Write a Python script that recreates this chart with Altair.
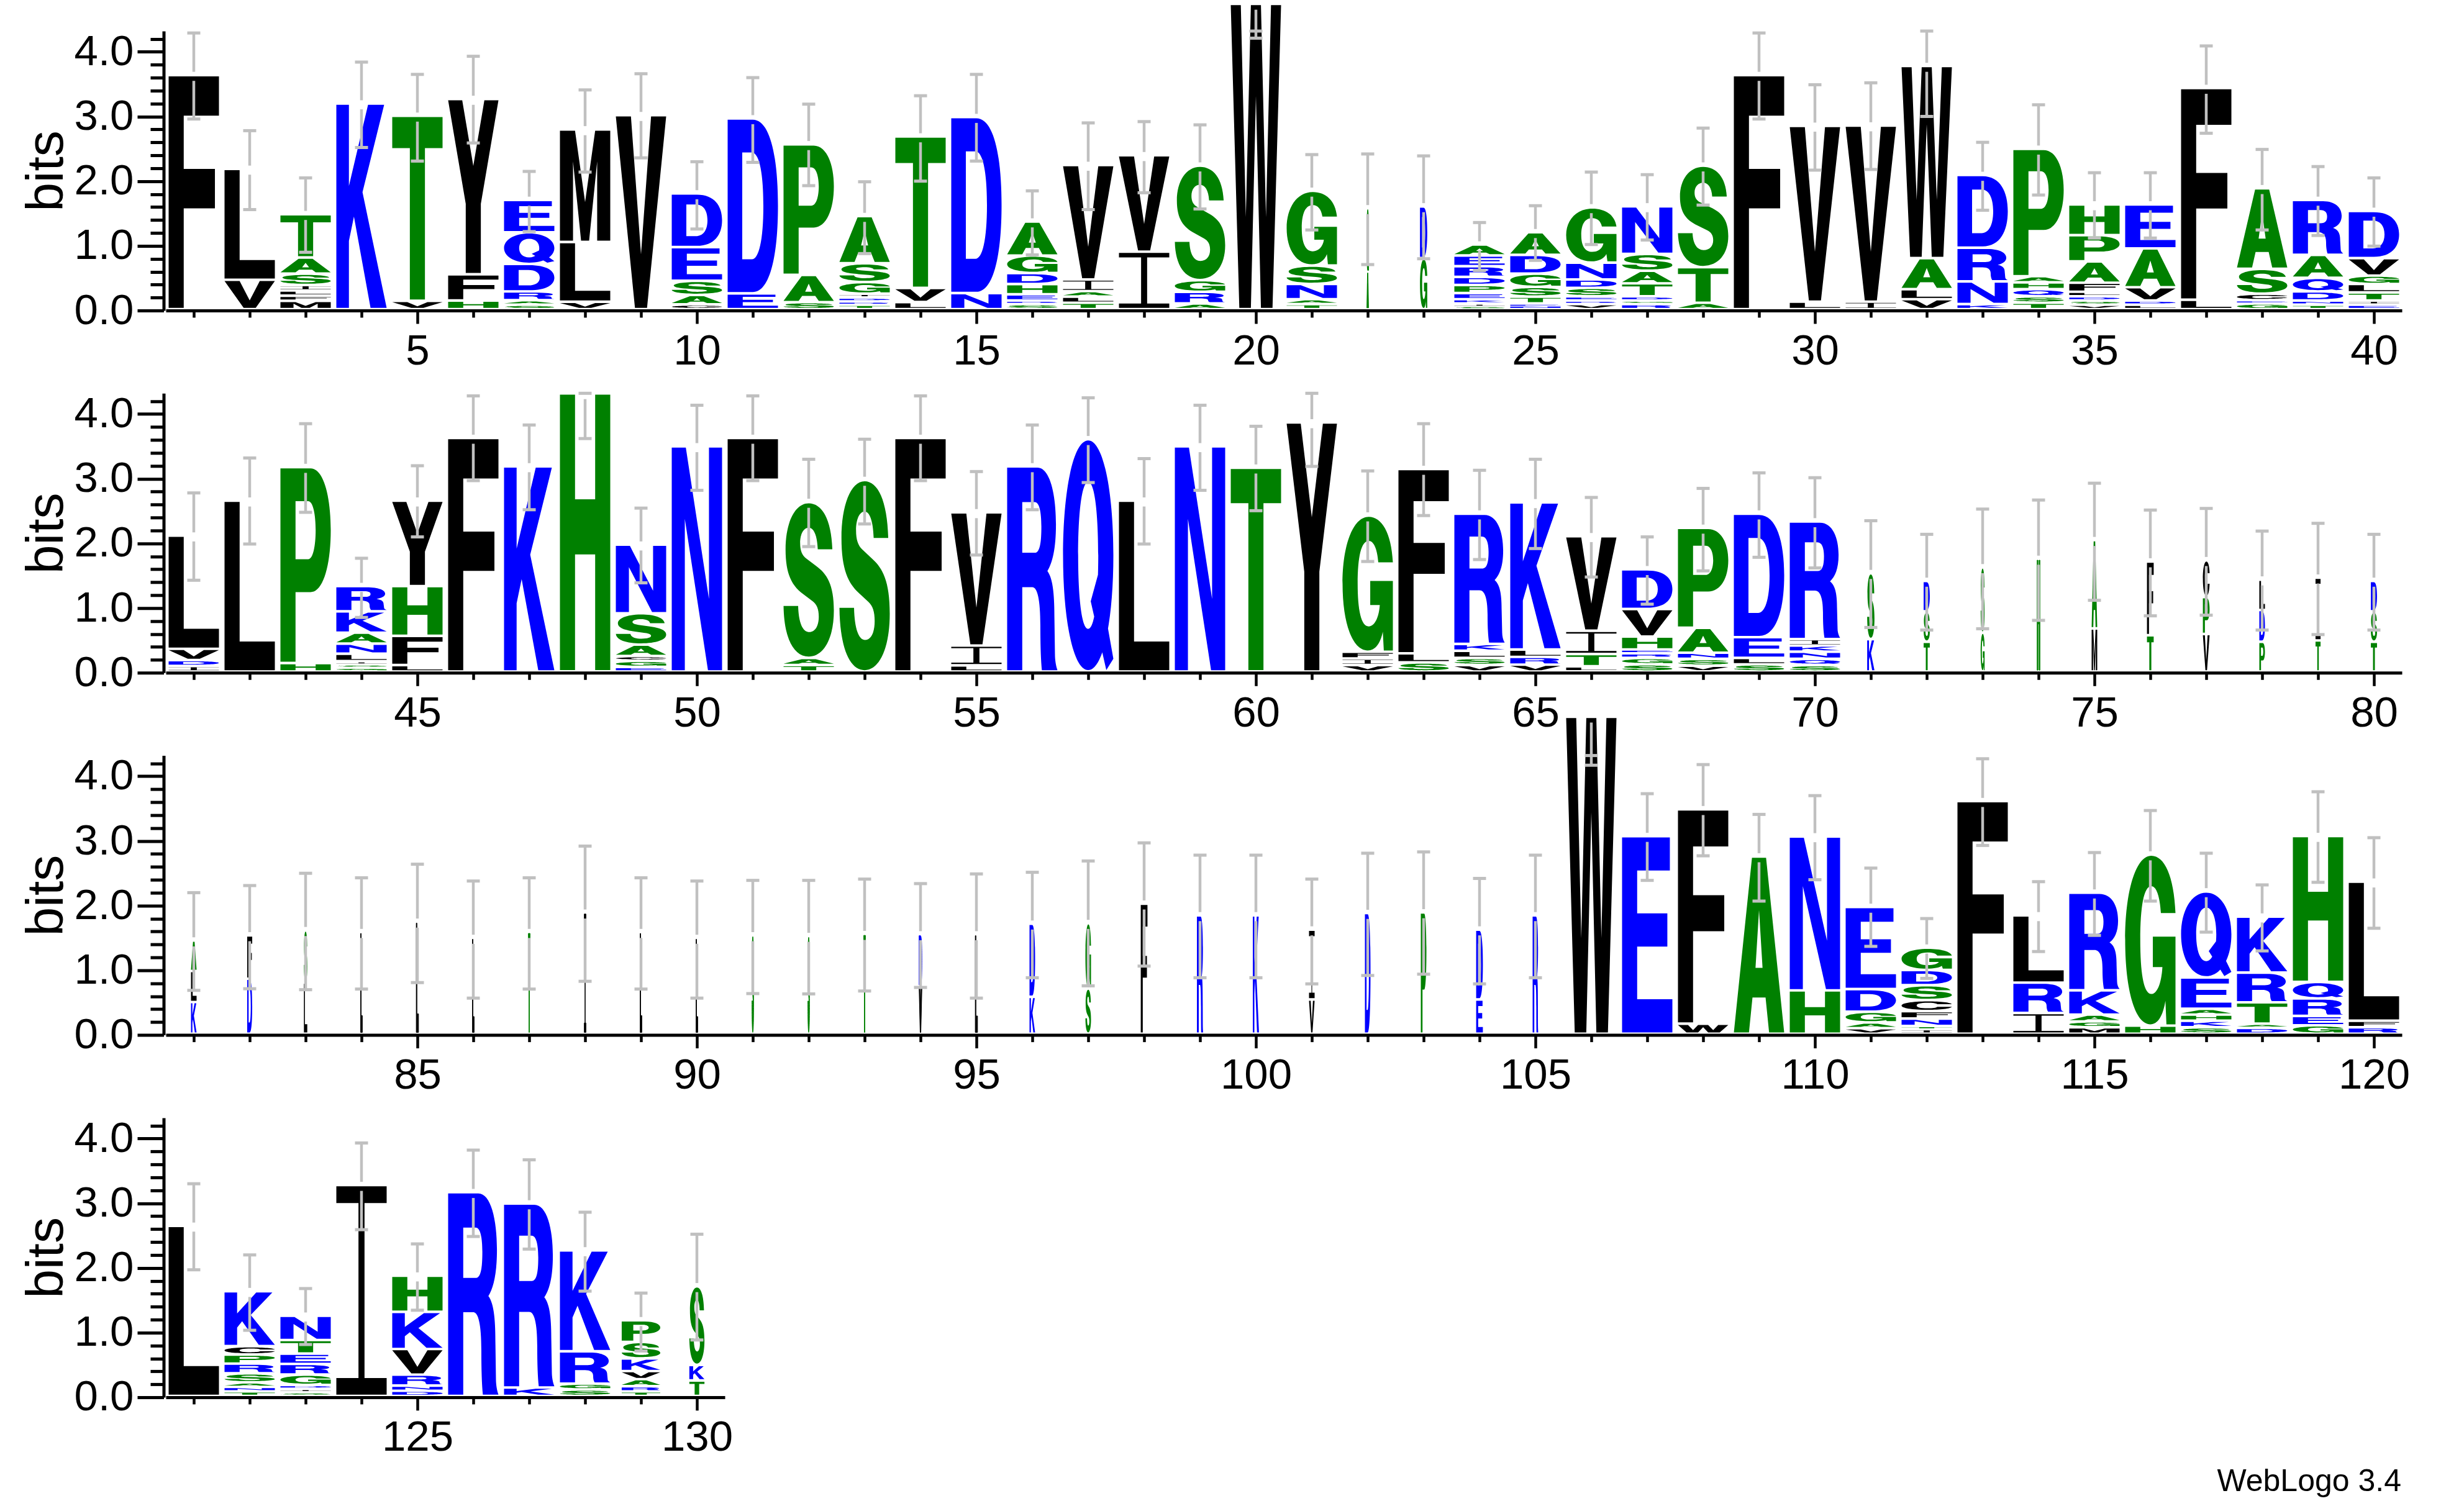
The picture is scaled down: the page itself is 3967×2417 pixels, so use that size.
import re

import altair as alt
import pandas as pd

# sequence logo, 130 positions in 4 rows. Vega text cannot be stretched on one axis only,
# so the logo letters are outlines in the point mark's shape channel; tick labels etc are text.

# letters of each stack, top to bottom
stack_letters = [
    "F", "LV", "TASILFM", "K", "TV", "YFH", "EQDRAS", "MLV", "V", "DESAC",
    "DE", "PAS", "ASGIDRT", "TVL", "DN", "AGDHERS", "VIALT", "VI", "SGRA", "W",
    "GSNAT", "GA", "DG", "AERDPEKIS", "ADGSTEN", "GNDSERV", "NSATDGR", "STA", "F", "VL",
    "VI", "WALV", "DRNK", "PAHQST", "HPAFLDSV", "EAVDL", "FL", "ASCEG", "RAQDNT", "DVGLTIE",
    "LVDI", "L", "PH", "RKANLISG", "YHFL", "F", "K", "H", "NSACGE", "N",
    "F", "SAT", "S", "F", "VIL", "R", "Q", "L", "N", "T",
    "Y", "GFIV", "FLS", "RKLSV", "KLRV", "VITL", "DVHERGS", "PANSV", "DELS", "RIKNQS",
    "SK", "DST", "SG", "H", "AM", "FT", "CPV", "LDP", "IT", "DST",
    "ALK", "FD", "SL", "L", "L", "L", "T", "I", "L", "L",
    "S", "S", "T", "DV", "L", "DK", "GS", "F", "R", "K",
    "IV", "D", "P", "DE", "R", "W", "E", "FW", "A", "NH",
    "EDGAV", "GDSCFNTI", "F", "LRI", "RKAGM", "GH", "QEAHKS", "KRTAD", "HQREG", "LFR",
    "L", "KCPRSANT", "NTERGDIS", "I", "HKVRND", "R", "RK", "KRGS", "PSKVART", "SKT",
]

# top edge of every letter in a stack, in bits (W at 20 is cut by the picture's edge)
stack_tops = [
    [3.62], [2.17, .455], [1.47, .80, .55, .375, .29, .21, .13], [3.18], [2.99, .13],
    [3.25, .54, .135], [1.69, 1.19, .70, .275, .14, .07], [2.78, 1.04, .115], [3.0], [1.79, .96, .44, .22, .075],
    [2.95, .245], [2.55, .53, .11], [1.44, .71, .42, .24, .18, .12, .07], [2.67, .33, .11], [2.97, .25],
    [1.355, .83, .56, .39, .23, .135, .08], [2.23, .46, .28, .195, .10], [2.38, .89], [2.22, .45, .27, .09], [4.72],
    [1.83, .675, .39, .155, .08], [1.56, .58], [1.59, .79], [1.0, .83, .665, .50, .375, .25, .155, .09, .05],
    [1.19, .84, .55, .345, .195, .09, .06], [1.575, .72, .46, .33, .20, .135, .08],
    [1.59, .855, .595, .40, .20, .135, .08], [2.22, .65, .10], [3.62], [2.835, .117],
    [2.84, .117], [3.76, .79, .31, .155], [2.075, .95, .43, .08], [2.48, .51, .415, .31, .20, .10],
    [1.62, 1.145, .74, .41, .27, .20, .135, .07], [1.62, .94, .34, .135, .07], [3.42, .147],
    [1.87, .625, .24, .14, .09], [1.69, .84, .485, .275, .135, .07], [1.52, .79, .52, .39, .26, .135, .07],
    [2.10, .35, .176, .085], [2.64], [3.16, .13], [1.32, .93, .60, .43, .275, .16, .11, .06], [2.64, 1.32, .55, .10],
    [3.61], [3.17], [4.30], [1.96, .90, .415, .24, .165, .07], [3.48],
    [3.61], [2.62, .21, .10], [2.96], [3.61], [2.46, .40, .095],
    [3.17], [3.59], [2.64], [3.48], [3.15],
    [3.85], [2.41, .305, .2, .10], [3.13, .28, .14], [2.44, .425, .32, .21, .10], [2.615, .34, .225, .105],
    [2.09, .63, .27, .08], [1.58, .965, .54, .34, .28, .21, .11], [2.22, .675, .29, .195, .09],
    [2.44, .53, .21, .11], [2.32, .50, .40, .305, .195, .10],
    [1.52, .50], [1.40, .93, .46], [1.61, .60], [1.74], [2.03, .665],
    [1.70, .56], [1.72, 1.15, .58], [1.42, .95, .46], [1.45, .48], [1.40, .93, .46],
    [1.44, .97, .49], [1.52, .85], [1.6, .79], [1.57], [1.73], [1.48], [1.57], [1.87], [1.57], [1.48],
    [1.52], [1.51], [1.54], [1.535, .735], [1.535], [1.70, .57], [1.71, .70], [2.01], [1.83], [1.83],
    [1.61, .53], [1.865], [1.875], [1.61, .53], [1.83], [4.9], [3.055], [3.47, .155], [2.74], [3.05, .67],
    [1.96, .69, .34, .175, .085], [1.33, .985, .75, .52, .35, .235, .12, .07], [3.595], [1.83, .79, .32],
    [2.18, .67, .295, .19, .10], [2.77, .125], [2.20, .87, .385, .295, .2, .10], [1.81, .945, .485, .155, .09],
    [3.055, .80, .545, .275, .13], [2.35, .20, .10],
    [2.63], [1.62, .77, .64, .50, .35, .21, .14, .07], [1.24, .865, .655, .495, .33, .17, .11, .06], [3.26],
    [1.86, 1.30, .725, .33, .16, .08], [3.15], [2.975, .13], [2.25, .69, .19, .10], [1.17, .835, .58, .385, .26, .15, .07],
    [1.695, .48, .24],
]

# error bar caps in bits
err_high = [
    4.29, 2.78, 2.05, 3.84, 3.65, 3.93, 2.15, 3.41, 3.66, 2.30,
    3.60, 3.19, 1.99, 3.32, 3.65, 1.85, 2.90, 2.92, 2.87, 4.32,
    2.41, 2.42, 2.39, 1.36, 1.62, 2.14, 2.10, 2.82, 4.29, 3.49,
    3.52, 4.32, 2.60, 3.18, 2.13, 2.13, 4.09, 2.49, 2.225, 2.05,
    2.78, 3.32, 3.85, 1.77, 3.20, 4.28, 3.83, 4.32, 2.545, 4.135,
    4.28, 3.30, 3.61, 4.28, 3.11, 3.83, 4.25, 3.31, 4.135, 3.81,
    4.32, 3.12, 3.85, 3.13, 3.30, 2.71, 2.10, 2.85, 3.09, 3.015,
    2.35, 2.14, 2.53, 2.67, 2.93, 2.515, 2.54, 2.19, 2.31, 2.14,
    2.20, 2.31, 2.50, 2.43, 2.64, 2.38, 2.43, 2.92, 2.43, 2.38,
    2.39, 2.39, 2.41, 2.34, 2.49, 2.515, 2.69, 2.97, 2.78, 2.78,
    2.41, 2.81, 2.83, 2.42, 2.78, 4.32, 3.73, 4.18, 3.41, 3.70,
    2.58, 1.80, 4.27, 2.37, 2.82, 3.47, 2.81, 2.32, 3.76, 3.05,
    3.30, 2.20, 1.68, 3.93, 2.37, 3.82, 3.67, 2.86, 1.61, 2.52,
]
err_low = [
    2.96, 1.56, .90, 2.52, 2.31, 2.59, 1.22, 2.14, 2.36, 1.26,
    2.29, 1.93, .88, 2.00, 2.31, .86, 1.56, 1.82, 1.57, 4.21,
    1.245, .71, .80, .62, .775, 1.02, 1.09, 1.63, 2.96, 2.17,
    2.18, 3.00, 1.55, 1.785, 1.12, 1.12, 2.74, 1.245, 1.16, .995,
    1.43, 1.99, 2.48, .855, 2.10, 2.97, 2.52, 3.62, 1.39, 2.82,
    2.97, 1.95, 2.30, 2.97, 1.82, 2.52, 2.94, 1.99, 2.82, 2.505,
    3.19, 1.72, 2.43, 1.75, 1.92, 1.48, 1.06, 1.575, 1.785, 1.62,
    .70, .66, .68, .81, 1.12, .88, .89, .66, .59, .66,
    .69, .715, .70, .71, .81, .57, .71, .83, .71, .57,
    .64, .635, .68, .735, .57, .885, .76, 1.065, .885, .885,
    .79, .92, .94, .79, .885, 4.17, 2.39, 2.77, 2.07, 2.40,
    1.37, .875, 2.93, 1.29, 1.54, 2.07, 1.59, 1.30, 2.36, 1.65,
    1.97, 1.035, .815, 2.59, 1.345, 2.485, 2.29, 1.64, .715, .885,
]

# stacks narrower than the usual 0.9 of a column
narrow_stacks = {
    22: .03, 23: .13, 71: .13, 72: .11, 73: .07, 74: .05, 75: .10, 76: .12, 77: .12, 78: .10,
    79: .09, 80: .11, 81: .10, 82: .09, 83: .06, 84: .03, 85: .04, 86: .03, 87: .03, 88: .03,
    89: .03, 90: .03, 91: .03, 92: .03, 93: .03, 94: .05, 95: .04, 96: .10, 97: .10, 98: .12,
    99: .11, 100: .11, 101: .10, 102: .10, 103: .10, 104: .12, 105: .10,
    129: .69, 130: .27,
}

rows = [(1, 40), (41, 80), (81, 120), (121, 130)]

BLUE = "#0000ff"
GREEN = "#008000"
letter_colors = {}
for c in "RKDENQ":
    letter_colors[c] = BLUE
for c in "SGHTAP":
    letter_colors[c] = GREEN
for c in "YVMCLFIW":
    letter_colors[c] = "#000000"

# bold outlines, box 0-100 with y up
glyphs = {
    "A": "M0 0 L36 100 L64 100 L100 0 L70 0 L63 20 L37 20 L30 0 Z M43 37 L57 37 L50 70 Z",
    "C": "M100 66 C97 88 78 100 52 100 C20 100 0 78 0 50 C0 20 20 0 52 0 C78 0 97 13 100 35 L71 35 "
         "C69 24 62 18 52 18 C37 18 30 30 30 50 C30 70 37 82 52 82 C62 82 69 76 71 66 Z",
    "D": "M0 0 L0 100 L50 100 C85 100 100 78 100 50 C100 22 85 0 50 0 Z "
         "M29 19 L48 19 C62 19 71 30 71 50 C71 70 62 81 48 81 L29 81 Z",
    "E": "M0 0 L0 100 L95 100 L95 83 L30 83 L30 61 L90 61 L90 44 L30 44 L30 17 L100 17 L100 0 Z",
    "F": "M0 0 L0 100 L100 100 L100 83 L30 83 L30 60 L92 60 L92 43 L30 43 L30 0 Z",
    "G": "M100 66 C97 88 78 100 52 100 C20 100 0 78 0 50 C0 20 20 0 50 0 C65 0 75 5 80 14 L82 0 L100 0 "
         "L100 52 L55 52 L55 34 L74 34 C72 24 63 18 52 18 C37 18 30 30 30 50 C30 70 37 82 52 82 "
         "C62 82 69 76 71 66 Z",
    "H": "M0 0 L0 100 L30 100 L30 62 L70 62 L70 100 L100 100 L100 0 L70 0 L70 42 L30 42 L30 0 Z",
    "I": "M0 0 L0 8 L44 8 L44 92 L0 92 L0 100 L100 100 L100 92 L56 92 L56 8 L100 8 L100 0 Z",
    "K": "M0 0 L0 100 L25 100 L25 60 L63 100 L95 100 L52 57 L100 0 L68 0 L35 45 L25 33 L25 0 Z",
    "L": "M0 0 L0 100 L30 100 L30 17 L100 17 L100 0 Z",
    "M": "M0 0 L0 100 L30 100 L50 35 L70 100 L100 100 L100 0 L74 0 L74 72 L58 0 L42 0 L26 72 L26 0 Z",
    "N": "M0 0 L0 100 L28 100 L74 32 L74 100 L100 100 L100 0 L72 0 L26 68 L26 0 Z",
    "P": "M0 0 L0 100 L60 100 C85 100 100 86 100 68 C100 50 85 36 60 36 L30 36 L30 0 Z "
         "M30 53 L55 53 C65 53 70 60 70 68 C70 76 65 83 55 83 L30 83 Z",
    "Q": "M50 100 C80 100 100 78 100 50 C100 22 80 0 50 0 C20 0 0 22 0 50 C0 78 20 100 50 100 Z "
         "M50 82 C37 82 30 68 30 50 C30 32 37 18 50 18 C63 18 70 32 70 50 C70 68 63 82 50 82 Z "
         "M55 30 L70 42 L100 5 L86 0 Z",
    "R": "M0 0 L0 100 L60 100 C85 100 97 87 97 72 C97 60 90 53 80 49 C92 45 94 36 94 25 L95 8 "
         "C95 5 97 2 100 0 L69 0 C67 5 66 12 66 22 C66 35 60 41 50 41 L30 41 L30 0 Z "
         "M30 58 L55 58 C65 58 68 63 68 71 C68 78 64 83 55 83 L30 83 Z",
    "S": "M97 70 C95 90 76 100 50 100 C22 100 4 87 4 70 C4 53 18 46 38 41 L58 36 C66 34 70 31 70 26 "
         "C70 20 63 16 51 16 C38 16 30 22 29 33 L0 33 C1 12 20 0 50 0 C80 0 100 12 100 30 "
         "C100 47 86 54 65 59 L45 64 C37 66 33 69 33 74 C33 80 40 84 50 84 C60 84 67 79 68 70 Z",
    "T": "M35 0 L35 83 L0 83 L0 100 L100 100 L100 83 L65 83 L65 0 Z",
    "V": "M38 0 L0 100 L30 100 L50 28 L70 100 L100 100 L62 0 Z",
    "W": "M17 0 L0 100 L20 100 L30 30 L40 100 L60 100 L70 30 L80 100 L100 100 L83 0 L60 0 L50 70 L40 0 Z",
    "Y": "M35 0 L35 40 L0 100 L28 100 L50 62 L72 100 L100 100 L65 40 L65 0 Z",
}

COL_PX = 90
PLOT_H = 450
Y_MAX = 4.32
PX_PER_BIT = PLOT_H / Y_MAX
LETTER_GAP = 0.04
BAR_GAP = 0.07
GREY = "#c0c0c0"
FONT = "Liberation Sans"


def glyph_path(letter, aspect):
    # box to the symbol's -1..1 square, y stretched by the letter's height/width
    out = []
    is_x = True
    for tok in re.findall(r"[MLCZ]|-?\d+\.?\d*", glyphs[letter]):
        if tok in "MLCZ":
            out.append(tok)
            is_x = True
        elif is_x:
            out.append(f"{(float(tok) - 50) / 50:.3f}")
            is_x = False
        else:
            out.append(f"{-(float(tok) - 50) / 50 * aspect:.3f}")
            is_x = True
    return " ".join(out)


letter_rows = []
bar_rows = []
cap_rows = []
for i, (letters, tops) in enumerate(zip(stack_letters, stack_tops)):
    pos = i + 1
    col_w = narrow_stacks.get(pos, 0.9)
    for j, (letter, top) in enumerate(zip(letters, tops)):
        bottom = tops[j + 1] + LETTER_GAP if j + 1 < len(tops) else LETTER_GAP
        bottom = min(bottom, top - 0.015)
        w_px = col_w * COL_PX
        aspect = (top - bottom) * PX_PER_BIT / w_px
        letter_rows.append({
            "pos": pos, "letter": letter, "mid": (top + bottom) / 2,
            "path": glyph_path(letter, aspect), "size": w_px ** 2,
            "color": letter_colors[letter],
            # the hairline stacks would wash out to grey without a little outline
            "outline": 1.0 if col_w < 0.06 else 0,
        })
    top = tops[0]
    if err_high[i] > top + BAR_GAP:
        bar_rows.append({"pos": pos, "y1": top + BAR_GAP, "y2": err_high[i]})
    bar_rows.append({"pos": pos, "y1": top - BAR_GAP, "y2": err_low[i]})
    cap_rows.append({"pos": pos, "cap": err_high[i]})
    cap_rows.append({"pos": pos, "cap": err_low[i]})

letters_df = pd.DataFrame(letter_rows)
bars_df = pd.DataFrame(bar_rows)
caps_df = pd.DataFrame(cap_rows)

y_ticks = [round(v * 0.2, 1) for v in range(22)]
is_whole = "abs(datum.value - round(datum.value)) < 0.01"


def make_row(first, last):
    x_enc = alt.X(
        "pos:Q",
        scale=alt.Scale(domain=[first - 0.5, last + 0.5], nice=False, zero=False),
        axis=alt.Axis(
            values=list(range(first, last + 1)), format="d", title=None, grid=False,
            labelExpr="datum.value % 5 == 0 ? datum.label : ''",
            labelFont=FONT, labelFontSize=69, labelColor="#000000", labelPadding=10,
            labelOverlap=False, labelFlush=False,
            tickSize={"condition": {"test": "datum.value % 5 == 0", "value": 21}, "value": 11},
            tickWidth=4.5, tickColor="#000000", domainWidth=5, domainColor="#000000",
        ),
    )
    y_axis = alt.Axis(
        values=y_ticks, format=".1f", title="bits", grid=False, offset=3.5,
        labelExpr=f"{is_whole} ? datum.label : ''",
        labelFont=FONT, labelFontSize=69, labelColor="#000000", labelPadding=6,
        labelOverlap=False, labelFlush=False, labelBound=False,
        tickSize={"condition": {"test": is_whole, "value": 42.5}, "value": 21.5},
        tickWidth=5, tickColor="#000000", domainWidth=5, domainColor="#000000",
        titleFont=FONT, titleFontSize=84, titleFontWeight="normal", titleColor="#000000",
        titleX=-163, titleY=225, titleBaseline="alphabetic",
    )
    y_scale = alt.Scale(domain=[0, Y_MAX], nice=False, zero=False)

    sel = f"datum.pos >= {first} && datum.pos <= {last}"
    logo = alt.Chart(letters_df).transform_filter(sel).mark_point(filled=True, opacity=1).encode(
        x=x_enc,
        y=alt.Y("mid:Q", scale=y_scale, axis=y_axis),
        shape=alt.Shape("path:N", scale=None),
        size=alt.Size("size:Q", scale=None),
        color=alt.Color("color:N", scale=None),
        stroke=alt.Stroke("color:N", scale=None),
        strokeWidth=alt.StrokeWidth("outline:Q", scale=None),
    )
    bars = alt.Chart(bars_df).transform_filter(sel).mark_rule(color=GREY, strokeWidth=4.5).encode(
        x=x_enc,
        y=alt.Y("y1:Q", scale=y_scale, axis=y_axis),
        y2="y2:Q",
    )
    caps = alt.Chart(caps_df).transform_filter(sel).mark_tick(
        color=GREY, orient="horizontal", size=21, thickness=5, opacity=1
    ).encode(
        x=x_enc,
        y=alt.Y("cap:Q", scale=y_scale, axis=y_axis),
    )
    return logo + bars + caps


panels = []
for first, last in rows:
    layer = make_row(first, last)
    if last == 130:
        credit = alt.Chart(pd.DataFrame({"t": ["WebLogo 3.4"]})).mark_text(
            align="right", baseline="alphabetic", font=FONT, fontSize=50, color="#000000"
        ).encode(x=alt.value(3599), y=alt.value(601), text="t:N")
        layer = layer + credit
    panels.append(layer.properties(width=(last - first + 1) * COL_PX, height=PLOT_H))

chart = alt.vconcat(*panels, spacing=133.3, bounds="flush").properties(
    padding={"left": 25, "top": 0, "right": 0, "bottom": 0}
).configure_view(strokeWidth=0)

chart.save("out.html", embed_options={"renderer": "svg", "actions": False})
